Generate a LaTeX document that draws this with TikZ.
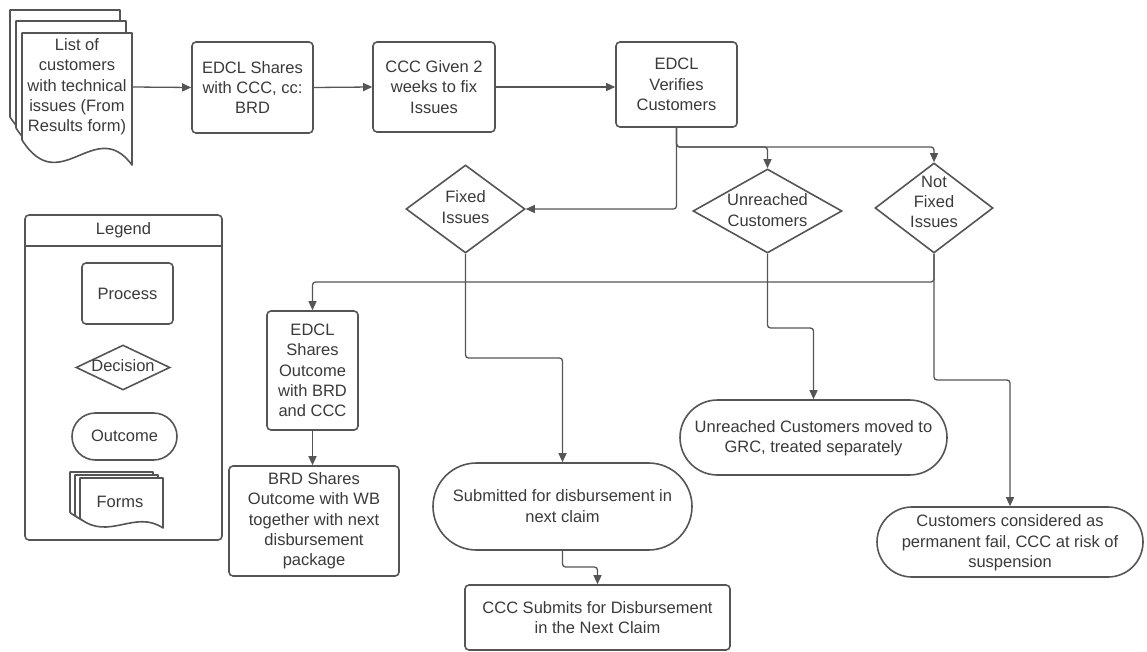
\documentclass[tikz,border=0pt]{standalone}
\usepackage{fontspec}
\setmainfont{Liberation Sans}
\usetikzlibrary{arrows.meta,shapes.geometric,calc}
\definecolor{ln}{HTML}{555555}
\definecolor{tx}{HTML}{3A3A3A}
\begin{document}
\begin{tikzpicture}[x=1pt,y=-1pt,
  every node/.style={font=\fontsize{16.5}{20.3}\selectfont, text=tx, align=center, inner sep=0pt},
  proc/.style={draw=ln, line width=1.6pt, rounded corners=4pt, fill=white},
  dec/.style={draw=ln, line width=1.6pt, diamond, inner sep=0pt},
  outc/.style={draw=ln, line width=1.6pt, rectangle, rounded corners=#1},
  arr/.style={draw=ln, line width=1.3pt, rounded corners=3pt, -{Triangle[length=9pt,width=8pt]}},
  sheet/.style={draw=ln, line width=1.6pt, fill=white, line join=round},
  docsheet/.pic={\path[sheet] (0,0) -- (1,0) -- (1,1) .. controls (0.664,0.621) and (0.345,1.265) .. (0,0.81) -- cycle;}
]
\useasboundingbox (0,0) rectangle (1147,652);

% ---- form stack (top left)
\pic[shift={(10,10)},xscale=110,yscale=132] {docsheet};
\pic[shift={(16,21)},xscale=110,yscale=132] {docsheet};
\pic[shift={(22,33)},xscale=110,yscale=132] {docsheet};
\node[minimum width=110pt, minimum height=20pt] (forms) at (77,87) {List of\\customers\\with technical\\issues (From\\Results form)};

% ---- top row
\node[proc, minimum width=121pt, minimum height=91pt] (b2) at (252.5,87.5) {EDCL Shares\\with CCC, cc:\\BRD};
\node[proc, minimum width=122pt, minimum height=90pt] (b3) at (434,87) {CCC Given 2\\weeks to fix\\Issues};
\node[proc, minimum width=121pt, minimum height=85pt] (b4) at (676.5,84.5) {EDCL\\Verifies\\Customers};

\draw[arr] (forms.east) -- (b2.west);
\draw[arr] (b2.east) -- (b3.west);
\draw[arr] (b3.east) -- (b3.east -| b4.west);

% ---- decisions
\node[dec, minimum width=119pt, minimum height=88pt] (fix) at (465.5,209) {};
\node (fixt) at (465.5,207) {Fixed\\Issues};
\node[dec, minimum width=149pt, minimum height=84pt] (unr) at (767.5,211) {};
\node (unrt) at (767.5,210) {Unreached\\Customers};
\node[dec, minimum width=118pt, minimum height=90pt] (nf) at (934,208) {};
\node (nft) at (934,202) {Not\\Fixed\\Issues};

\coordinate (s1) at (676.5,147);
\draw[arr] (b4.south) |- (fix.east);
\draw[arr] (b4.south) -- (s1) -| (unr.north);
\draw[arr] (b4.south) -- (s1) -| (nf.north);

% ---- lower nodes
\node[proc, minimum width=91pt, minimum height=119pt] (sho) at (312.5,370.5) {EDCL\\Shares\\Outcome\\with BRD\\and CCC};
\node[proc, minimum width=170pt, minimum height=110pt] (brd) at (314,521) {BRD Shares\\Outcome with WB\\together with next\\disbursement\\package};
\node[outc=43.5pt, minimum width=259pt, minimum height=87pt] (sub) at (562.5,506.5) {};
\node (subt) at (562.5,506) {Submitted for disbursement in\\next claim};
\node[proc, minimum width=265pt, minimum height=65pt] (ccc) at (597.5,617.5) {CCC Submits for Disbursement\\in the Next Claim};
\node[outc=37.5pt, minimum width=267pt, minimum height=75pt] (uo) at (813.5,437.5) {};
\node (uot) at (813.5,438) {Unreached Customers moved to\\GRC, treated separately};
\node[outc=35pt, minimum width=266pt, minimum height=70pt] (perm) at (1010,542) {};
\node (permt) at (1010,543) {Customers considered as\\permanent fail, CCC at risk of\\suspension};

\coordinate (s2) at (934,282);
\coordinate (s3) at (934,380);
\coordinate (s4) at (767.5,328);
\coordinate (s5) at (465.5,358);
\coordinate (s6) at (562.5,567);
\draw[arr] (nf.south) -- (s2) -| (sho.north);
\draw[arr] (nf.south) -- (s3) -| (perm.north);
\draw[arr] (unr.south) -- (s4) -| (uo.north);
\draw[arr] (fix.south) -- (s5) -| (sub.north);
\draw[arr] (sub.south) -- (s6) -| (ccc.north);
\draw[arr] (sho.south) -- (sho.south |- brd.north);

% ---- legend
\node[draw=ln, line width=1.6pt, rounded corners=4pt, minimum width=197pt, minimum height=325pt] (leg) at (123.5,377.5) {};
\draw[draw=ln, line width=1.6pt] ($(leg.north west)+(0,32)$) -- ($(leg.north east)+(0,32)$);
\node (legt) at (123.5,230) {Legend};
\node[proc, minimum width=91pt, minimum height=61pt] (lp) at (127.5,293.5) {Process};
\node[dec, minimum width=94pt, minimum height=45pt] (ld) at (123,367.5) {};
\node (ldt) at (123,366) {Decision};
\node[outc=23.5pt, minimum width=105pt, minimum height=47pt] (lo) at (124.5,436.5) {};
\node (lot) at (124.5,436) {Outcome};
\pic[shift={(70,472)},xscale=83,yscale=50] {docsheet};
\pic[shift={(75,475)},xscale=83,yscale=50] {docsheet};
\pic[shift={(80,478)},xscale=83,yscale=50] {docsheet};
\node (lf) at (120,502) {Forms};
\end{tikzpicture}
\end{document}
